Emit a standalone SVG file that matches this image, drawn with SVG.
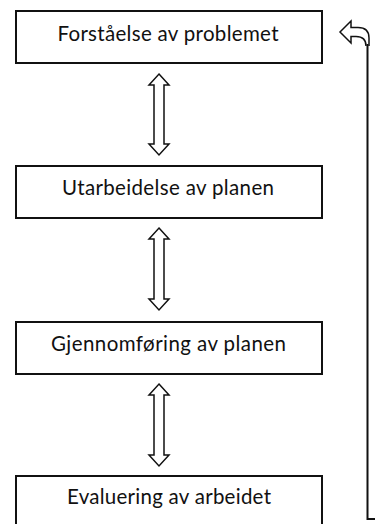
<svg xmlns="http://www.w3.org/2000/svg" width="375" height="524" viewBox="0 0 375 524">
<style>
.box{fill:#fff;stroke:#111;stroke-width:2}
.lbl{font-family:Lato,"Open Sans","Liberation Sans",sans-serif;font-size:20.5px;fill:#111;text-anchor:middle}
.arr{fill:#fff;stroke:#111;stroke-width:1.5;stroke-linejoin:miter}
.ln{fill:none;stroke:#111;stroke-width:2}
</style>
<rect width="375" height="524" fill="#fff"/>
<g id="connectors">
<path class="arr" d="M159,74 L169,85 L164,85 L164,144 L169,144 L159,155 L149,144 L154,144 L154,85 L149,85 Z"/>
<path class="arr" d="M159,228 L169,239 L164,239 L164,299 L169,299 L159,310 L149,299 L154,299 L154,239 L149,239 Z"/>
<path class="arr" d="M159,384 L169,395 L164,395 L164,455 L169,455 L159,466 L149,455 L154,455 L154,395 L149,395 Z"/>
<path class="arr" d="M369,46 L369,38 Q369,27.5 358,27.5 L351,27.5 L351,21 L340,32 L351,43 L351,36.5 L356,36.5 Q366,36.5 366,46"/>
<path class="ln" d="M367.5,44 V519 H375"/>
</g>
<g id="n1"><rect class="box" x="16" y="11" width="306" height="52"/><text class="lbl" x="168" y="41" textLength="221">Forståelse av problemet</text></g>
<g id="n2"><rect class="box" x="16" y="166" width="306" height="52"/><text class="lbl" x="168" y="195" textLength="212">Utarbeidelse av planen</text></g>
<g id="n3"><rect class="box" x="16" y="322" width="306" height="52"/><text class="lbl" x="168.5" y="351" textLength="235">Gjennomføring av planen</text></g>
<g id="n4"><rect class="box" x="16" y="476" width="306" height="56"/><text class="lbl" x="169" y="504" textLength="204">Evaluering av arbeidet</text></g>
</svg>
